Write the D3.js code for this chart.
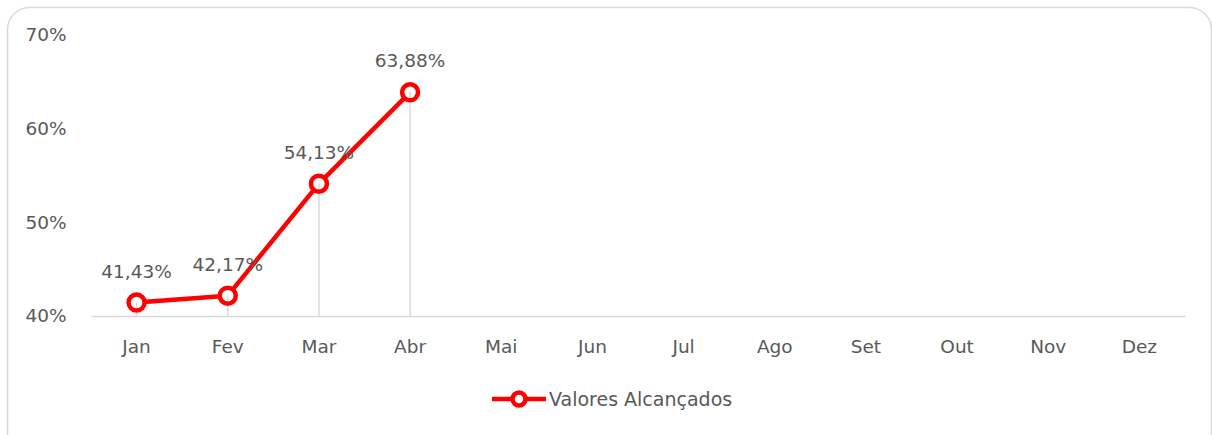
<!DOCTYPE html>
<html>
<head>
<meta charset="utf-8">
<script src="https://cdn.jsdelivr.net/npm/d3@7"></script>
<style>
  html, body { margin: 0; padding: 0; background: #fff; }
  svg { display: block; }
  text { font-family: "DejaVu Sans", sans-serif; fill: #595959; }
</style>
</head>
<body>
<svg id="chart" width="1212" height="435"></svg>
<script>
// Monthly achieved values (percent); null where no value yet
const months = ["Jan", "Fev", "Mar", "Abr", "Mai", "Jun", "Jul", "Ago", "Set", "Out", "Nov", "Dez"];
const values = [41.43, 42.17, 54.13, 63.88, null, null, null, null, null, null, null, null];
const yTicks = [40, 50, 60, 70];
const seriesName = "Valores Alcançados";

const svg = d3.select("#chart");
const W = 1212, H = 435;
const red = "#ff0000";
const font = "'DejaVu Sans', sans-serif";
const fs = 18.5;

// Card background with rounded border
svg.append("rect")
  .attr("x", 7.5).attr("y", 7.5)
  .attr("width", W - 8).attr("height", H + 20)
  .attr("rx", 22).attr("ry", 22)
  .attr("fill", "#fff").attr("stroke", "#d9d9d9").attr("stroke-width", 1.5);

const plot = { left: 91, right: 1185, top: 35, bottom: 316 };

const x = d3.scaleBand().domain(months).range([plot.left, plot.right]);
const y = d3.scaleLinear().domain([40, 70]).range([plot.bottom, plot.top]);
const cx = m => x(m) + x.bandwidth() / 2;

// Y axis labels (no axis line)
const yAxis = d3.axisLeft(y).tickValues(yTicks).tickSize(0).tickPadding(0)
  .tickFormat(d => d + "%");
const yg = svg.append("g").attr("transform", `translate(${plot.left - 45},0)`).call(yAxis);
yg.select(".domain").remove();
yg.selectAll("text").attr("font-size", fs).attr("fill", "#595959")
  .attr("font-family", font).attr("text-anchor", "middle");

// X axis: baseline and category labels
const xAxis = d3.axisBottom(x).tickSize(0).tickPadding(24);
const xg = svg.append("g").attr("transform", `translate(0,${plot.bottom})`).call(xAxis);
xg.select(".domain").attr("stroke", "#d9d9d9").attr("stroke-width", 1.5);
xg.selectAll("text").attr("font-size", fs).attr("fill", "#595959")
  .attr("font-family", font);

const pts = months.map((m, i) => ({ m, v: values[i] })).filter(d => d.v != null);

// Series line
const line = d3.line().x(d => cx(d.m)).y(d => y(d.v));
svg.append("path").datum(pts)
  .attr("d", line).attr("fill", "none")
  .attr("stroke", red).attr("stroke-width", 4.5).attr("stroke-linejoin", "round");

// Marker fills
svg.append("g").selectAll("circle").data(pts).join("circle")
  .attr("cx", d => cx(d.m)).attr("cy", d => y(d.v)).attr("r", 8)
  .attr("fill", "#fff");

// Drop lines from each point to the baseline
svg.append("g").selectAll("line").data(pts).join("line")
  .attr("x1", d => cx(d.m)).attr("x2", d => cx(d.m))
  .attr("y1", d => y(d.v)).attr("y2", plot.bottom)
  .attr("stroke", "#d9d9d9").attr("stroke-width", 1.5);

// Marker rings
svg.append("g").selectAll("circle").data(pts).join("circle")
  .attr("cx", d => cx(d.m)).attr("cy", d => y(d.v)).attr("r", 8)
  .attr("fill", "none").attr("stroke", red).attr("stroke-width", 4.5);

// Data labels
const fmt = v => v.toFixed(2).replace(".", ",") + "%";
svg.append("g").selectAll("text").data(pts).join("text")
  .attr("x", d => cx(d.m)).attr("y", d => y(d.v) - 25)
  .attr("text-anchor", "middle").attr("font-size", fs)
  .text(d => fmt(d.v));

// Legend
const lg = svg.append("g").attr("transform", "translate(492,399)");
lg.append("line").attr("x1", 0).attr("x2", 54).attr("y1", 0).attr("y2", 0)
  .attr("stroke", red).attr("stroke-width", 4.5);
lg.append("circle").attr("cx", 27).attr("cy", 0).attr("r", 6.5)
  .attr("fill", "#fff").attr("stroke", red).attr("stroke-width", 4.5);
lg.append("text").attr("x", 57).attr("y", 0).attr("dy", "0.35em")
  .attr("font-size", 19).text(seriesName);
</script>
</body>
</html>
